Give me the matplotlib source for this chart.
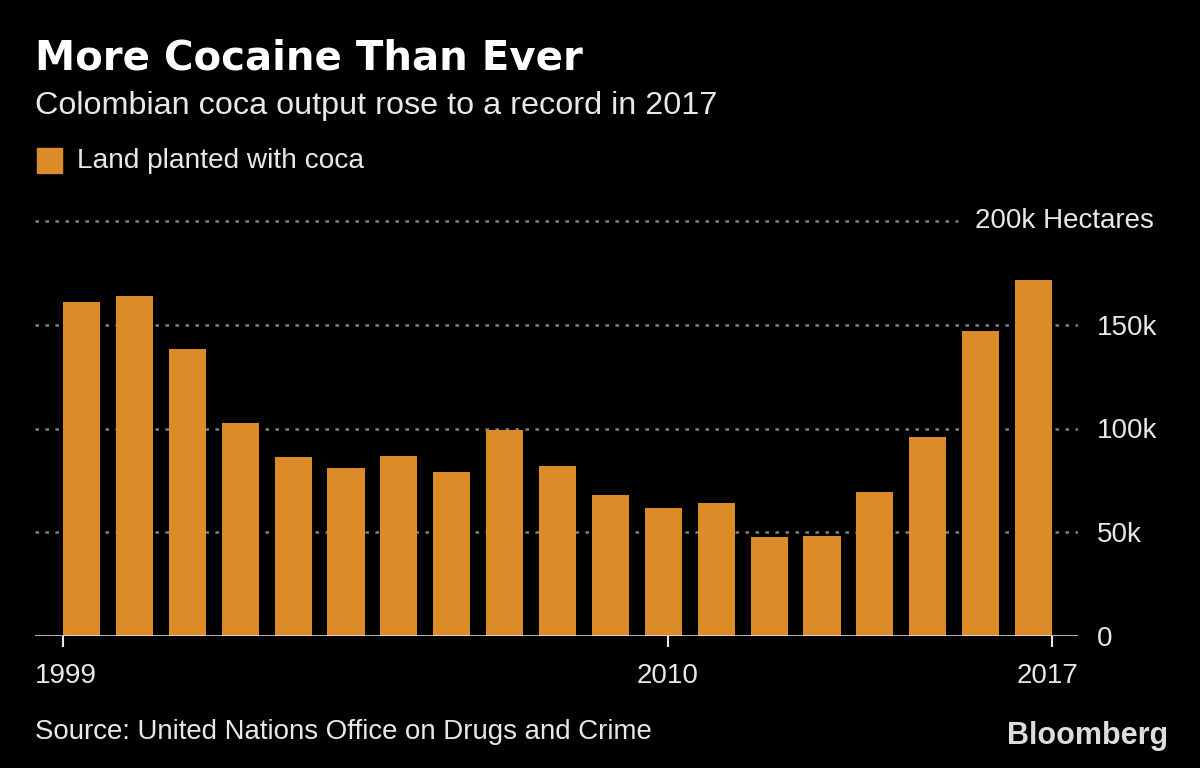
import matplotlib.pyplot as plt
from matplotlib.patches import Rectangle

# data (thousand hectares)
years = list(range(1999, 2018))
hectares = [161.2, 163.8, 138.2, 102.5, 86.3, 80.8, 86.6, 78.8, 99.1, 81.7,
            67.8, 61.7, 64.3, 47.5, 48.4, 69.6, 96.1, 146.9, 171.8]
y_ticks = [0, 50, 100, 150]
y_tick_labels = ['0', '50k', '100k', '150k']
x_tick_years = [1999, 2010, 2017]

bg = 'black'
orange = '#DB8B27'
txt = '#E8E8E8'
fam = ['Liberation Sans', 'DejaVu Sans']
plt.rcParams['font.family'] = fam

W, H = 1200, 768
fig = plt.figure(figsize=(12, 7.68), dpi=100, facecolor=bg)

# axes placement in pixels
left, right, bottom, top = 35, 1078, 636, 221
ax = fig.add_axes([left / W, 1 - bottom / H, (right - left) / W, (bottom - top) / H])
ax.set_facecolor(bg)

xs = [y - years[0] for y in years]
ax.bar(xs, hectares, width=0.7, color=orange, zorder=3)
ax.set_xlim(-0.88, 18.84)
ax.set_ylim(0, 200)

grid_style = dict(color='#808080', lw=1.8, ls=(0, (1.4, 2.6)), zorder=1)
for v in y_ticks[1:]:
    ax.axhline(v, **grid_style)
ax.axhline(200, xmax=0.885, clip_on=False, **grid_style)
ax.axhline(0, color=txt, lw=1.8, zorder=4)

for s in ax.spines.values():
    s.set_visible(False)
ax.tick_params(axis='y', left=False, right=False, labelleft=False, labelright=True,
               labelsize=20, colors=txt, pad=10)
ax.set_yticks(y_ticks)
ax.set_yticklabels(y_tick_labels)
for lab in ax.get_yticklabels():
    lab.set_horizontalalignment('left')
ax.text(1.0725, 200, '200k Hectares', transform=ax.get_yaxis_transform(),
        ha='right', va='center', fontsize=20, color=txt)

# x ticks: first at left edge of bar, last at right edge, labels placed by hand
pos = []
for yr in x_tick_years:
    i = yr - years[0]
    if yr == years[0]:
        pos.append(i - 0.35)
    elif yr == years[-1]:
        pos.append(i + 0.35)
    else:
        pos.append(i + 0.08)
ax.set_xticks(pos)
ax.set_xticklabels([])
ax.tick_params(axis='x', colors=txt, length=8, width=1.5, direction='out')
ax.text(0.0, -0.097, str(x_tick_years[0]), transform=ax.transAxes, ha='left', va='center',
        fontsize=20, color=txt)
ax.text(pos[1], -0.097, str(x_tick_years[1]), transform=ax.get_xaxis_transform(), ha='center',
        va='center', fontsize=20, color=txt)
ax.text(1.0, -0.097, str(x_tick_years[2]), transform=ax.transAxes, ha='right', va='center',
        fontsize=20, color=txt)

# titles
fig.text(35 / W, 1 - 59 / H, 'More Cocaine Than Ever', fontsize=29, fontweight='bold',
         color='white', va='center', ha='left', family=['DejaVu Sans'])
fig.text(35 / W, 1 - 106 / H, 'Colombian coca output rose to a record in 2017', fontsize=23.3,
         color=txt, va='center', ha='left')
fig.patches.append(Rectangle((37 / W, 1 - 173 / H), 25 / W, 25 / H, transform=fig.transFigure,
                             color=orange, figure=fig))
fig.text(77 / W, 1 - 161 / H, 'Land planted with coca', fontsize=20.2, color=txt,
         va='center', ha='left')

fig.text(35 / W, 1 - 732 / H, 'Source: United Nations Office on Drugs and Crime', fontsize=19.9,
         color=txt, va='center', ha='left')
fig.text(1168 / W, 1 - 736 / H, 'Bloomberg', fontsize=22, fontweight='bold', color='#DDDDDD',
         va='center', ha='right')

fig.savefig('out.png', dpi=100, facecolor=bg)
